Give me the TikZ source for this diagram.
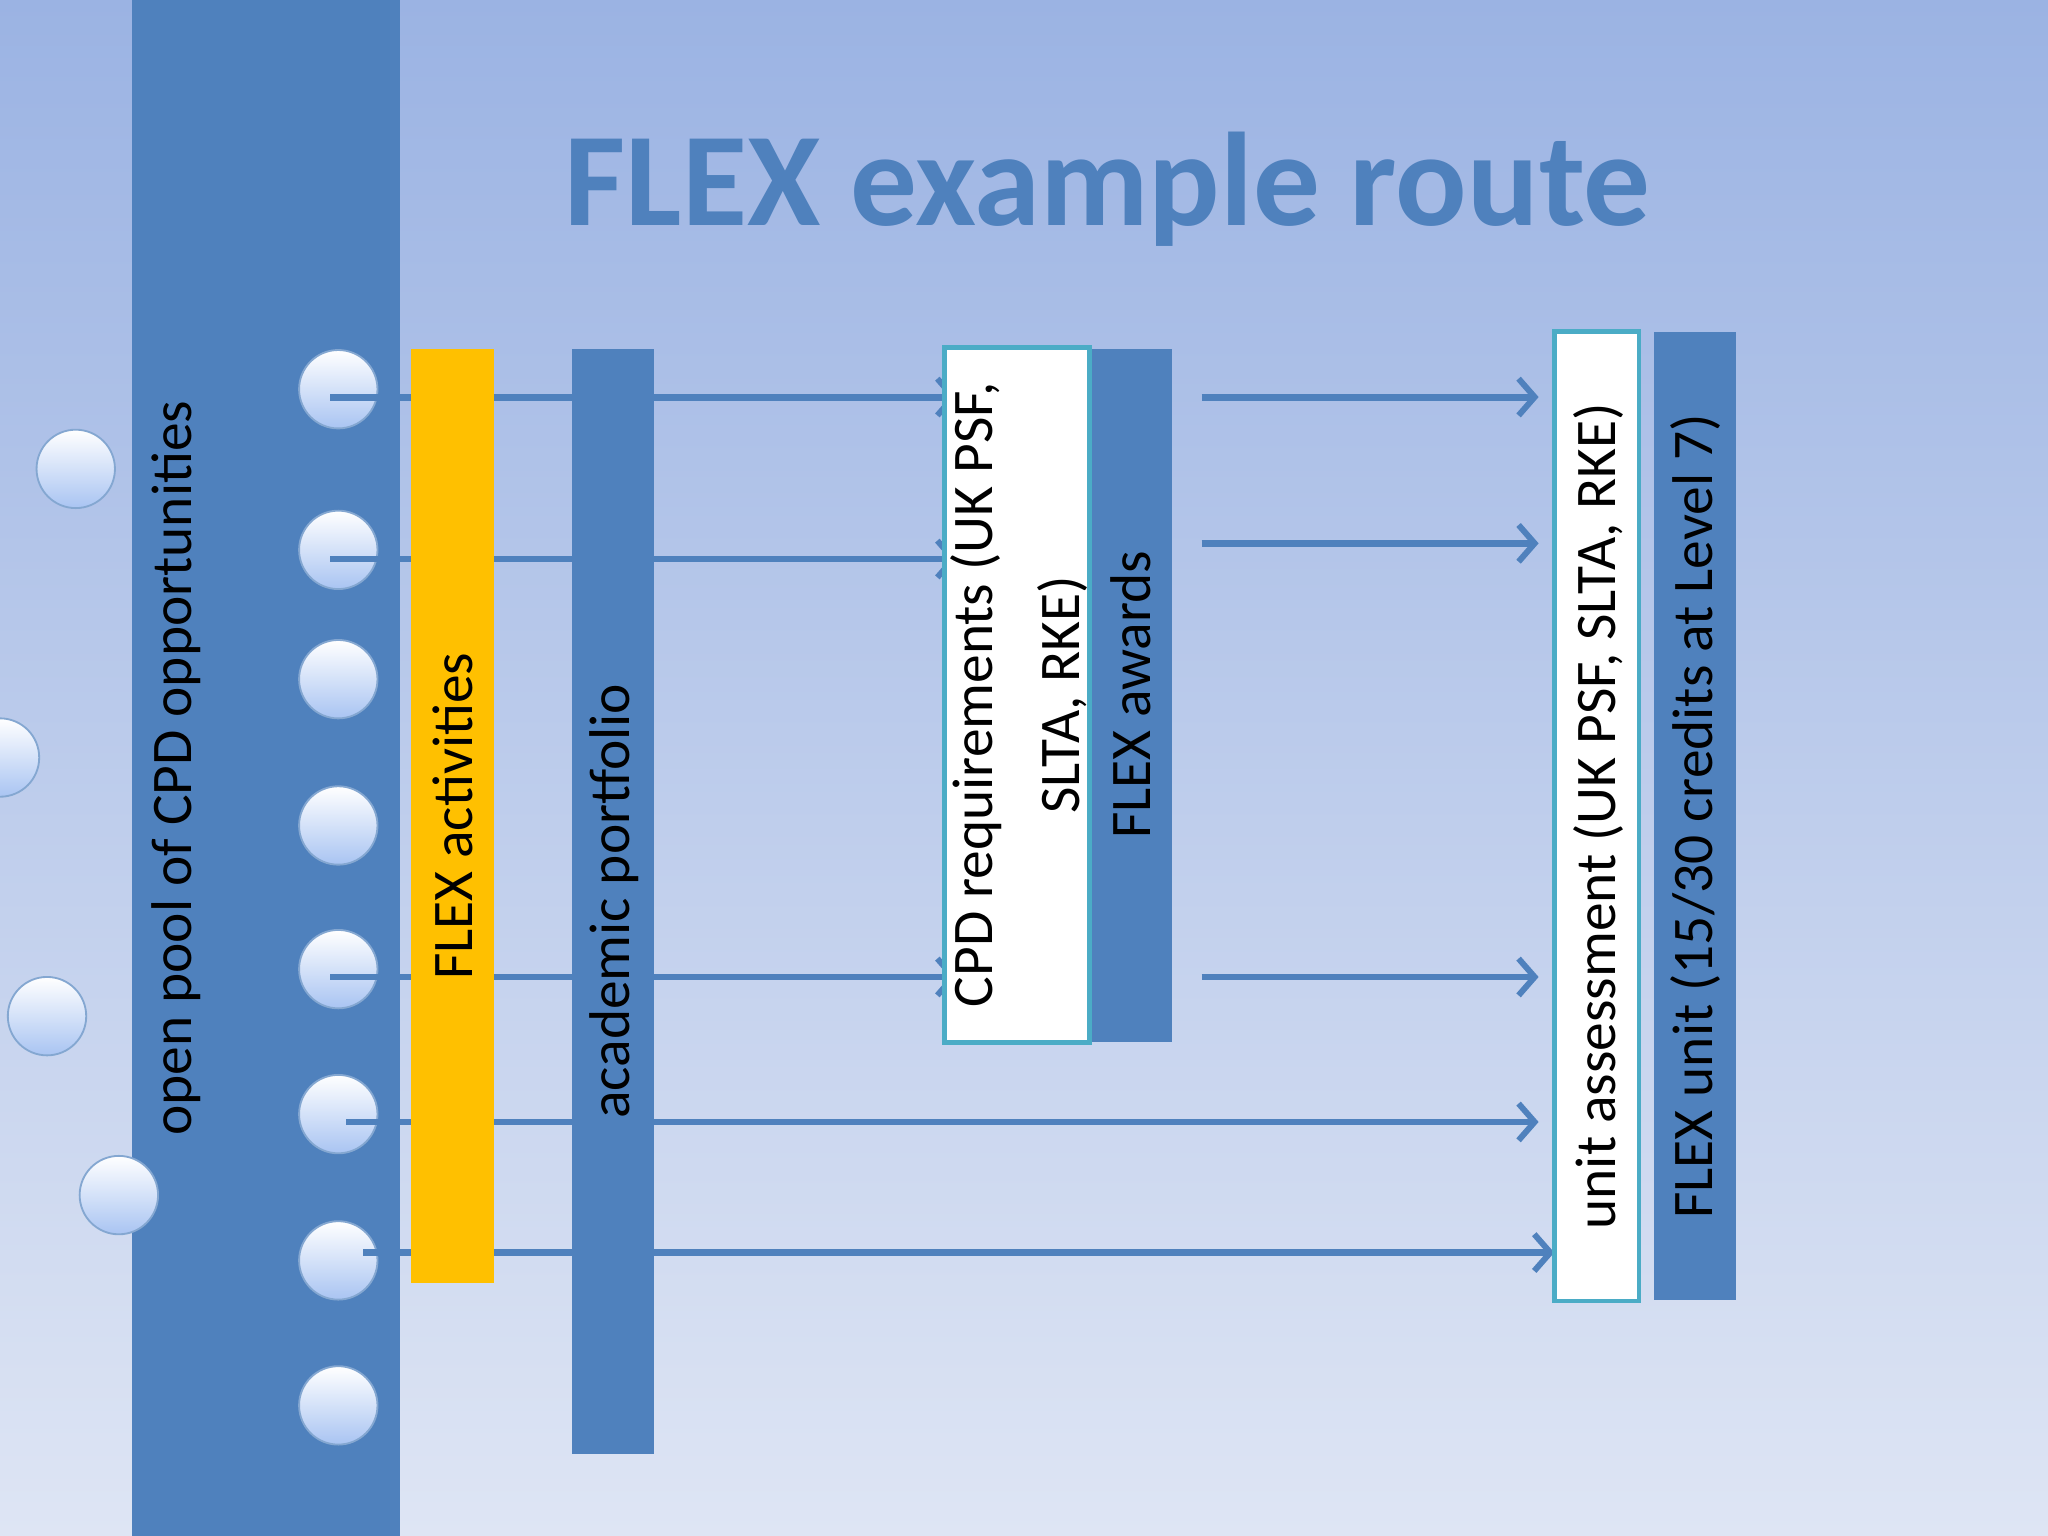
\documentclass[tikz,border=0pt]{standalone}
\usepackage{fontspec}
\setmainfont{Carlito}
\usetikzlibrary{arrows.meta}
\definecolor{bl}{HTML}{4F81BD}
\definecolor{teal}{HTML}{4BACC6}
\definecolor{yel}{HTML}{FFC000}
\definecolor{lb}{HTML}{A9C4F2}
\begin{document}
\begin{tikzpicture}[x=0.01cm,y=-0.01cm,
  wbox/.style={fill=white,draw=teal,line width=1pt},
  lab/.style={rotate=90,font=\fontsize{12.5}{15}\selectfont,align=center},
  dot/.style={circle,inner sep=0pt,minimum size=0.6cm,top color=white,bottom color=lb,draw=bl!70,line width=0.4pt},
  arr/.style={draw=bl,line width=1.5pt,-{Straight Barb[length=3.5pt,width=8pt,line width=1.3pt]}}]
\useasboundingbox (0,0) rectangle (1568,1176);
\shade[top color={rgb,255:red,155;green,179;blue,227},bottom color={rgb,255:red,222;green,229;blue,244}] (0,0) rectangle (1568,1176);
\fill[bl] (101,0) rectangle (306,1176);
\node[text=bl,font=\bfseries\fontsize{29}{34}\selectfont] (title) at (848,145) {FLEX example route};
\node[lab] (pool) at (135,588) {open pool of CPD opportunities};
\foreach \n/\x/\y in {a/259/298,b/259/421,c/259/520,d/259/632,e/259/742,f/259/853,g/259/965,h/259/1076,o1/58/359,o2/0/580,o3/36/778,o4/91/915}
  \node[dot] (c\n) at (\x,\y) {};
\foreach \n/\x/\y in {s1/253/304,s2/253/428,s3/253/748,s4/920/304,s5/920/416,s6/920/748,s7/265/859,s8/278/959,
  t1/733/304,t2/733/428,t3/733/748,t4/1178/304,t5/1178/416,t6/1178/748,t7/1178/859,t8/1190/959}
  \coordinate (\n) at (\x,\y);
\foreach \i in {1,...,8} \draw[arr] (s\i) -- (t\i);
\fill[yel] (315,267) rectangle (378,982);
\node[lab] (act) at (347,625) {FLEX activities};
\fill[bl] (438,267) rectangle (501,1113);
\node[lab] (port) at (470,690) {academic portfolio};
\draw[wbox] (723,266) rectangle (834,798);
\node[lab,font=\fontsize{12.5}{19}\selectfont] (cpd) at (780,532) {CPD requirements (UK PSF,\\SLTA, RKE)};
\fill[bl] (836,267) rectangle (897,798);
\node[lab] (aw) at (866,532) {FLEX awards};
\draw[wbox] (1190,254) rectangle (1255,996);
\node[lab] (ua) at (1224,625) {unit assessment (UK PSF, SLTA, RKE)};
\fill[bl] (1266,254) rectangle (1329,995);
\node[lab] (fu) at (1298,625) {FLEX unit (15/30 credits at Level 7)};
\end{tikzpicture}
\end{document}
